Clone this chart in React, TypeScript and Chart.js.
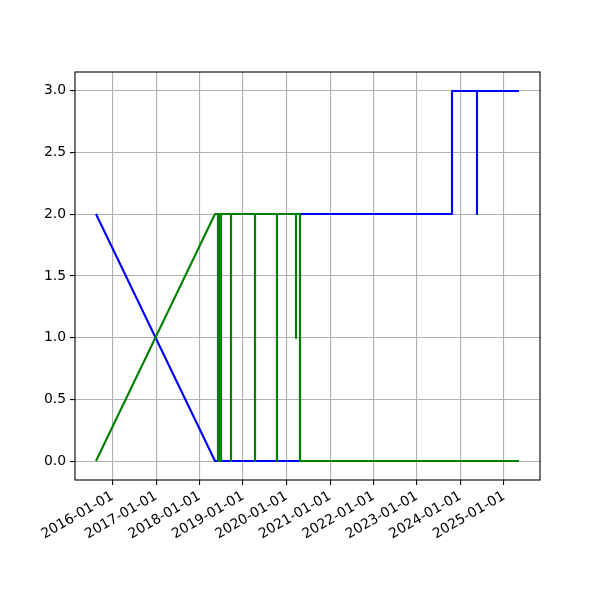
import React, { useEffect, useRef } from "react";
import { Chart, registerables } from "chart.js";

Chart.register(...registerables);

// Green series (drawn on top)
const greenDates = [
  "2015-08-16", "2018-05-12",
  "2018-06-05", "2018-06-05", "2018-06-05",
  "2018-06-10", "2018-06-10", "2018-06-10",
  "2018-06-15", "2018-06-15", "2018-06-15",
  "2018-06-20", "2018-06-20", "2018-06-20",
  "2018-06-25", "2018-06-25", "2018-06-25",
  "2018-06-30", "2018-06-30", "2018-06-30",
  "2018-07-04", "2018-07-04", "2018-07-04",
  "2018-09-26", "2018-09-26", "2018-09-26",
  "2019-04-10", "2019-04-10", "2019-04-10",
  "2019-10-17", "2019-10-17", "2019-10-17",
  "2020-03-21", "2020-03-21", "2020-03-21",
  "2020-04-24", "2020-04-24", "2025-05-06",
];
const greenValues = [
  0, 2,
  2, 0, 2,
  2, 0, 2,
  2, 0, 2,
  2, 0, 2,
  2, 0, 2,
  2, 0, 2,
  2, 0, 2,
  2, 0, 2,
  2, 0, 2,
  2, 0, 2,
  2, 1, 2,
  2, 0, 0,
];

// Blue series
const blueDates = [
  "2015-08-16", "2018-05-12",
  "2018-06-05", "2018-06-05", "2018-06-05",
  "2018-06-10", "2018-06-10", "2018-06-10",
  "2018-06-15", "2018-06-15", "2018-06-15",
  "2018-06-20", "2018-06-20", "2018-06-20",
  "2018-06-25", "2018-06-25", "2018-06-25",
  "2018-06-30", "2018-06-30", "2018-06-30",
  "2018-07-04", "2018-07-04", "2018-07-04",
  "2018-09-26", "2018-09-26", "2018-09-26",
  "2019-04-10", "2019-04-10", "2019-04-10",
  "2019-10-17", "2019-10-17", "2019-10-17",
  "2020-04-24", "2020-04-24",
  "2023-10-25", "2023-10-25",
  "2024-05-17", "2024-05-17", "2024-05-17",
  "2025-05-06",
];
const blueValues = [
  2, 0,
  0, 2, 0,
  0, 2, 0,
  0, 2, 0,
  0, 2, 0,
  0, 2, 0,
  0, 2, 0,
  0, 2, 0,
  0, 2, 0,
  0, 2, 0,
  0, 2, 0,
  0, 2,
  2, 3,
  3, 2, 3,
  3,
];

const xTickYears = [2016, 2017, 2018, 2019, 2020, 2021, 2022, 2023, 2024, 2025];
const yTickValues = [0, 0.5, 1.0, 1.5, 2.0, 2.5, 3.0];

const toMs = (d: string) => Date.parse(d + "T00:00:00Z");

const framePlugin = {
  id: "frame",
  afterDraw(chart: any) {
    const { ctx, chartArea } = chart;
    ctx.save();
    ctx.strokeStyle = "#000";
    ctx.lineWidth = 1.1;
    ctx.strokeRect(chartArea.left, chartArea.top, chartArea.right - chartArea.left, chartArea.bottom - chartArea.top);
    ctx.restore();
  },
};

// Pixel snapping of path vertices (as matplotlib does for rendering)
const snapPlugin = {
  id: "snap",
  beforeDatasetsDraw(chart: any) {
    chart.getSortedVisibleDatasetMetas().forEach((meta: any) => {
      meta.data.forEach((el: any) => {
        el.x = Math.round(el.x);
        el.y = Math.round(el.y);
      });
    });
  },
};

export default function App() {
  const ref = useRef<HTMLCanvasElement>(null);
  useEffect(() => {
    document.body.style.margin = "0";
    const allX = [...greenDates, ...blueDates].map(toMs);
    const xMin = Math.min(...allX);
    const xMax = Math.max(...allX);
    const xPad = (xMax - xMin) * 0.05;
    const font = { family: "DejaVu Sans", size: 13.9 };
    const chart = new Chart(ref.current!, {
      type: "line",
      data: {
        datasets: [
          {
            data: greenDates.map((d, i) => ({ x: toMs(d), y: greenValues[i] })),
            borderColor: "#008000",
            borderWidth: 2.1,
            pointRadius: 0,
            tension: 0,
            fill: false,
            borderJoinStyle: "round",
            borderCapStyle: "butt",
          },
          {
            data: blueDates.map((d, i) => ({ x: toMs(d), y: blueValues[i] })),
            borderColor: "#0000ff",
            borderWidth: 2.1,
            pointRadius: 0,
            tension: 0,
            fill: false,
            borderJoinStyle: "round",
            borderCapStyle: "butt",
          },
        ],
      },
      options: {
        animation: false,
        responsive: false,
        layout: { padding: { top: 72, right: 60, left: 0, bottom: 0 } },
        plugins: { legend: { display: false }, tooltip: { enabled: false } },
        scales: {
          x: {
            type: "linear",
            min: xMin - xPad,
            max: xMax + xPad,
            afterBuildTicks: (scale: any) => {
              scale.ticks = xTickYears.map((y) => ({ value: Date.UTC(y, 0, 1) }));
            },
            afterFit: (scale: any) => {
              scale.height = 120;
            },
            ticks: {
              autoSkip: false,
              minRotation: 30,
              maxRotation: 30,
              color: "#000",
              font,
              padding: 3,
              callback: (v: any) => new Date(v).toISOString().slice(0, 10),
            },
            grid: { color: "#b0b0b0", lineWidth: 1.1, tickColor: "#000", tickLength: 5 },
            border: { display: false },
          },
          y: {
            type: "linear",
            min: -0.15,
            max: 3.15,
            afterBuildTicks: (scale: any) => {
              scale.ticks = yTickValues.map((v) => ({ value: v }));
            },
            afterFit: (scale: any) => {
              scale.width = 75;
            },
            ticks: {
              color: "#000",
              font,
              padding: 4,
              callback: (v: any) => Number(v).toFixed(1),
            },
            grid: { color: "#b0b0b0", lineWidth: 1.1, tickColor: "#000", tickLength: 5 },
            border: { display: false },
          },
        },
      },
      plugins: [snapPlugin, framePlugin],
    } as any);
    return () => chart.destroy();
  }, []);
  return (
    <div style={{ width: 600, height: 600, background: "#fff" }}>
      <canvas ref={ref} width={600} height={600} style={{ display: "block" }} />
    </div>
  );
}
